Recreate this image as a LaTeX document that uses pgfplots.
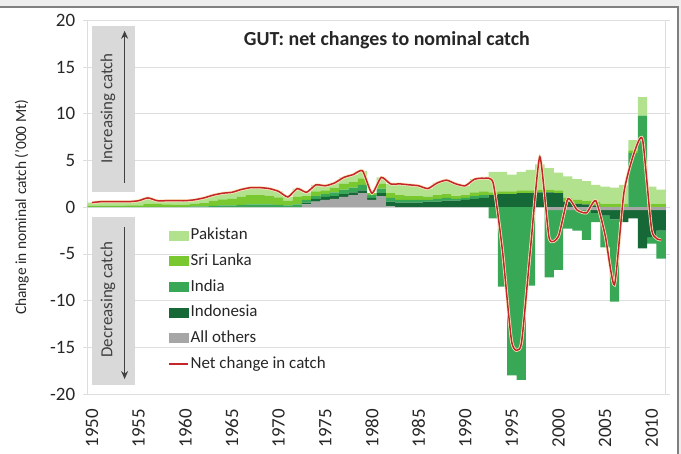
\documentclass[border=0pt]{standalone}
\usepackage{fontspec}
\setmainfont{Carlito}
\usepackage{pgfplots}
\usepackage{pgfplotstable}
\pgfplotsset{compat=1.18}
\usetikzlibrary{arrows.meta}

\definecolor{pakC}{RGB}{178,226,142}
\definecolor{sriC}{RGB}{122,200,48}
\definecolor{indC}{RGB}{56,168,86}
\definecolor{indoC}{RGB}{22,104,54}
\definecolor{othC}{RGB}{166,166,166}
\definecolor{netC}{RGB}{196,38,44}
\definecolor{haloC}{RGB}{250,232,190}
\definecolor{gridC}{RGB}{222,222,222}
\definecolor{boxC}{RGB}{217,217,217}
\definecolor{txtC}{RGB}{64,64,64}
\definecolor{frameC}{RGB}{128,128,128}
\definecolor{pageC}{RGB}{238,238,238}

% positive contributions ('000 Mt)
\pgfplotstableread{
year oth indo ind sri pak
1950 0 0 .05 .10 .35
1951 0 0 .05 .10 .45
1952 0 0 .05 .10 .45
1953 0 0 .05 .10 .45
1954 0 0 .05 .15 .40
1955 0 0 .05 .15 .50
1956 0 0 .05 .35 .60
1957 0 0 .05 .30 .35
1958 0 0 .05 .25 .40
1959 0 0 .05 .20 .45
1960 0 0 .05 .20 .45
1961 0 0 .10 .25 .45
1962 0 0 .10 .35 .55
1963 0 0 .15 .55 .60
1964 0 0 .20 .65 .65
1965 0 0 .20 .70 .70
1966 0 0 .25 .85 .80
1967 0 0 .30 1.0 .80
1968 0 0 .30 1.0 .80
1969 0 0 .30 .95 .75
1970 0 0 .25 .80 .65
1971 0 0 .20 .50 .40
1972 0 0 .30 .80 .90
1973 .30 .20 .30 .40 .40
1974 .60 .30 .30 .50 .70
1975 .80 .30 .30 .40 .50
1976 .90 .30 .40 .50 .50
1977 1.1 .30 .50 .60 .70
1978 1.3 .30 .50 .60 .80
1979 1.5 .30 .60 .70 .80
1980 .80 .20 .30 .20 0
1981 1.2 .30 .50 .50 .70
1982 .10 .50 .40 .50 1.0
1983 0 .50 .30 .50 1.2
1984 0 .50 .30 .40 1.2
1985 0 .50 .30 .40 1.1
1986 0 .60 .20 .30 .90
1987 0 .60 .30 .40 1.3
1988 0 .70 .30 .40 1.5
1989 0 .70 .20 .30 1.3
1990 0 .80 .20 .30 1.0
1991 0 .90 .30 .40 1.4
1992 0 1.0 .30 .40 1.4
1993 0 1.3 0 .30 2.2
1994 0 1.4 0 .30 2.1
1995 0 1.4 0 .30 1.8
1996 0 1.5 0 .30 2.0
1997 0 1.5 0 .30 2.2
1998 0 1.6 0 .30 2.7
1999 0 1.6 0 .30 2.3
2000 0 1.5 0 .30 1.9
2001 0 .60 0 .40 2.3
2002 0 .40 0 .40 2.2
2003 0 .30 0 .40 2.1
2004 0 .20 0 .40 1.8
2005 0 0 0 .40 1.8
2006 0 0 0 .40 1.7
2007 0 0 0 .40 2.0
2008 0 0 5.8 .30 1.1
2009 0 0 9.8 0 2.0
2010 0 0 0 .40 1.8
2011 0 0 0 .40 1.5
}\postab

% negative contributions
\pgfplotstableread{
year oth indo ind
1993 0 0 -1.2
1994 0 0 -8.5
1995 0 0 -18.0
1996 0 0 -18.5
1997 0 0 -8.4
1998 0 0 0
1999 -.3 0 -7.2
2000 -.3 0 -6.4
2001 -.3 0 -2.0
2002 -.3 0 -2.2
2003 -.3 0 -3.2
2004 -.3 -.3 -1.0
2005 -.3 -.6 -3.4
2006 -.3 -1.0 -8.8
2007 -.3 -1.3 0
2008 -.3 -.9 0
2009 -.3 -4.1 0
2010 -.3 -2.9 -.7
2011 -.3 -2.2 -3.0
}\negtab

% net change in catch
\pgfplotstableread{
year net
1950 0.5
1951 0.6
1952 0.6
1953 0.6
1954 0.6
1955 0.7
1956 1.0
1957 0.7
1958 0.7
1959 0.7
1960 0.7
1961 0.8
1962 1.0
1963 1.3
1964 1.5
1965 1.6
1966 1.9
1967 2.1
1968 2.1
1969 2.0
1970 1.7
1971 1.1
1972 2.0
1973 1.6
1974 2.4
1975 2.3
1976 2.6
1977 3.2
1978 3.5
1979 3.9
1980 1.5
1981 3.2
1982 2.5
1983 2.5
1984 2.4
1985 2.3
1986 2.0
1987 2.6
1988 2.9
1989 2.5
1990 2.3
1991 3.0
1992 3.1
1993 2.6
1994 -4.7
1995 -14.5
1996 -14.7
1997 -4.4
1998 5.4
1999 -3.3
2000 -3.1
2001 0.9
2002 -0.3
2003 -0.6
2004 0.7
2005 -3.0
2006 -8.3
2007 1.5
2008 5.5
2009 7.3
2010 -2.5
2011 -3.5
}\nettab

\pgfplotsset{
  base/.style={
    scale only axis, width=578.5bp, height=373.5bp,
    xmin=1949.5, xmax=2011.5, ymin=-20, ymax=20,
    at={(87.3bp,60bp)}, anchor=south west,
  },
}

\begin{document}
\begin{tikzpicture}
\path[use as bounding box] (0bp,0bp) rectangle (681bp,454bp);
\fill[pageC] (0bp,447bp) rectangle (681bp,454bp);
\fill[pageC] (678bp,0bp) rectangle (681bp,454bp);
\draw[frameC, line width=2bp] (0bp,447bp) -- (678bp,447bp) -- (678bp,0bp);

% positive stack, grid and axes
\begin{axis}[base,
  ybar stacked, bar width=1,
  ymajorgrids, grid style={gridC, line width=0.8bp},
  axis line style={gridC, line width=0.8bp},
  ytick={-20,-15,...,20},
  yticklabels={-20,-15,-10,-5,0,5,10,15,20},
  xtick={1950,1955,...,2010},
  xticklabels={1950,1955,1960,1965,1970,1975,1980,1985,1990,1995,2000,2005,2010},
  xtick style={draw=none},
  ytick style={draw=gridC, line width=0.8bp},
  major tick length=4bp, tick align=outside,
  ticklabel style={text=black!85, font=\fontsize{19}{22}\selectfont},
  yticklabel style={anchor=east, inner sep=0pt},
  xticklabel style={rotate=90, anchor=east, inner sep=0pt},
  xticklabel shift=11bp, yticklabel shift=8bp,
  ylabel={Change in nominal catch ('000 Mt)},
  ylabel style={at={(axis description cs:-0.113,0.5)}, anchor=center,
    font=\fontsize{15.5}{18}\selectfont, text=black!85},
]
\addplot[fill=othC, draw=none] table[x=year, y=oth] {\postab};
\addplot[fill=indoC, draw=none] table[x=year, y=indo] {\postab};
\addplot[fill=indC, draw=none] table[x=year, y=ind] {\postab};
\addplot[fill=sriC, draw=none] table[x=year, y=sri] {\postab};
\addplot[fill=pakC, draw=none] table[x=year, y=pak] {\postab};
\end{axis}

% negative stack
\begin{axis}[base, hide axis, ybar stacked, bar width=1]
\addplot[fill=othC, draw=none] table[x=year, y=oth] {\negtab};
\addplot[fill=indoC, draw=none] table[x=year, y=indo] {\negtab};
\addplot[fill=indC, draw=none] table[x=year, y=ind] {\negtab};
\end{axis}

% net line, legend and annotations
\begin{axis}[base, hide axis,
  legend style={at={(axis cs:1958.2,-2.0)}, anchor=north west,
    draw=none, fill=none, inner sep=0pt,
    font=\fontsize{17}{20}\selectfont, text=black!85,
    row sep=7.2bp,
    nodes={text height=12bp, text depth=3.5bp, inner sep=1.5bp}},
  legend cell align=left,
]
\fill[boxC] (axis cs:1950.05,19.4) rectangle (axis cs:1954.6,1.6);
\fill[boxC] (axis cs:1950.05,-1.0) rectangle (axis cs:1954.6,-19.0);
\node[rotate=90, text=txtC, font=\fontsize{17}{20}\selectfont]
  at (axis cs:1951.7,10.6) {Increasing catch};
\node[rotate=90, text=txtC, font=\fontsize{17}{20}\selectfont]
  at (axis cs:1951.7,-9.9) {Decreasing catch};
\draw[txtC, line width=1.5bp, -{Stealth[length=8bp,width=7bp]}]
  (axis cs:1953.5,2.6) -- (axis cs:1953.5,18.9);
\draw[txtC, line width=1.5bp, -{Stealth[length=8bp,width=7bp]}]
  (axis cs:1953.5,-2.1) -- (axis cs:1953.5,-18.4);
\node[font=\bfseries\fontsize{20}{24}\selectfont, text=black!85]
  at (axis cs:1981.6,17.9) {GUT: net changes to nominal catch};

\addplot[haloC, line width=3bp, smooth, tension=0.35, forget plot]
  table[x=year, y=net] {\nettab};
\addplot[netC, line width=1.5bp, smooth, tension=0.35, forget plot]
  table[x=year, y=net] {\nettab};

\addlegendimage{legend image code/.code={\fill[pakC] (0bp,-4.5bp) rectangle (19bp,4.5bp);}}
\addlegendentry{Pakistan}
\addlegendimage{legend image code/.code={\fill[sriC] (0bp,-4.5bp) rectangle (19bp,4.5bp);}}
\addlegendentry{Sri Lanka}
\addlegendimage{legend image code/.code={\fill[indC] (0bp,-4.5bp) rectangle (19bp,4.5bp);}}
\addlegendentry{India}
\addlegendimage{legend image code/.code={\fill[indoC] (0bp,-4.5bp) rectangle (19bp,4.5bp);}}
\addlegendentry{Indonesia}
\addlegendimage{legend image code/.code={\fill[othC] (0bp,-4.5bp) rectangle (19bp,4.5bp);}}
\addlegendentry{All others}
\addlegendimage{legend image code/.code={\draw[netC, line width=1.5bp] (0bp,0bp) -- (19bp,0bp);}}
\addlegendentry{Net change in catch}
\end{axis}
\end{tikzpicture}
\end{document}
